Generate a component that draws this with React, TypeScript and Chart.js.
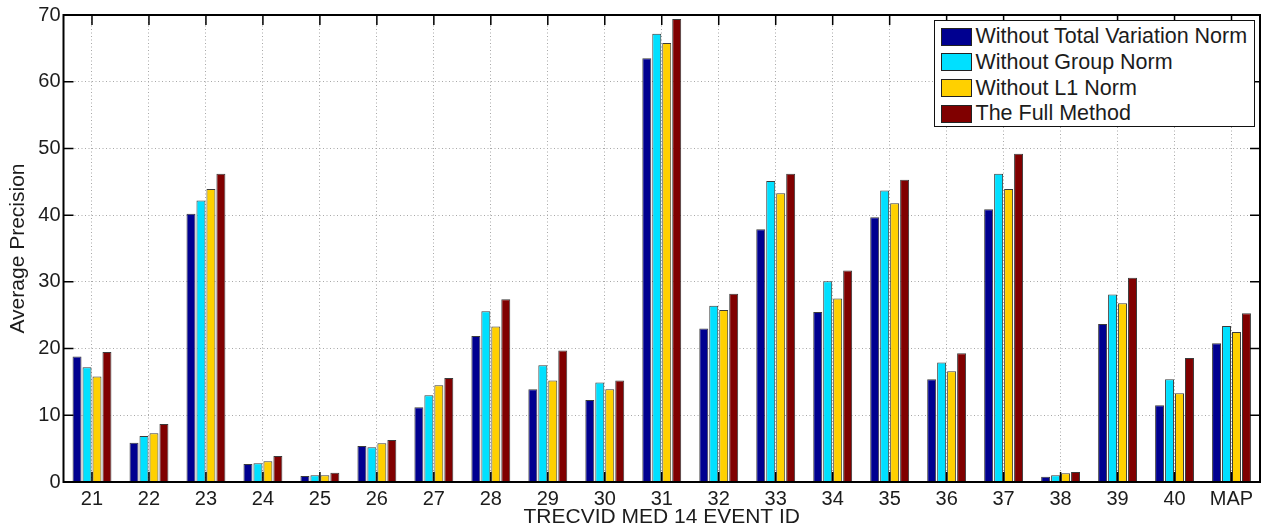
import React, { useEffect, useRef } from "react";
import { Chart, registerables } from "chart.js";

Chart.register(...registerables);

const categories = ["21", "22", "23", "24", "25", "26", "27", "28", "29", "30", "31", "32", "33", "34", "35", "36", "37", "38", "39", "40", "MAP"];
const seriesNames = ["Without Total Variation Norm", "Without Group Norm", "Without L1 Norm", "The Full Method"];
const withoutTV = [18.8, 5.9, 40.2, 2.7, 0.9, 5.4, 11.2, 21.9, 13.9, 12.3, 63.5, 23.0, 37.9, 25.5, 39.7, 15.4, 40.9, 0.8, 23.7, 11.5, 20.8];
const withoutGroup = [17.2, 6.9, 42.2, 2.8, 1.0, 5.2, 13.0, 25.6, 17.5, 14.9, 67.2, 26.4, 45.1, 30.1, 43.7, 17.9, 46.2, 1.0, 28.1, 15.4, 23.4];
const withoutL1 = [15.8, 7.3, 43.9, 3.1, 1.0, 5.8, 14.5, 23.3, 15.2, 13.9, 65.8, 25.8, 43.3, 27.5, 41.8, 16.6, 43.9, 1.3, 26.8, 13.3, 22.5];
const fullMethod = [19.5, 8.7, 46.2, 3.9, 1.4, 6.3, 15.6, 27.4, 19.7, 15.2, 69.4, 28.2, 46.2, 31.7, 45.3, 19.3, 49.2, 1.5, 30.6, 18.6, 25.3];
const seriesValues = [withoutTV, withoutGroup, withoutL1, fullMethod];
const colors = ["#000090", "#00E0FF", "#FFD000", "#800000"];
const yMin = 0;
const yMax = 70;
const yStep = 10;
const xTitle = "TRECVID MED 14 EVENT ID";
const yTitle = "Average Precision";

const FONT = "'Liberation Sans', Arial, Helvetica, sans-serif";
const TEXT = "#1c1c1c";

const frame = {
  id: "matlabFrame",
  afterDatasetsDraw(chart: any) {
    const { ctx, chartArea } = chart;
    const { left, right, top, bottom } = chartArea;
    const xs = chart.scales.x;
    const ys = chart.scales.y;
    const len = 10;
    ctx.save();
    ctx.strokeStyle = "#000";
    ctx.lineWidth = 1.5;
    ctx.beginPath();
    xs.ticks.forEach((_t: any, i: number) => {
      const x = xs.getPixelForTick(i);
      ctx.moveTo(x, bottom);
      ctx.lineTo(x, bottom - len);
      ctx.moveTo(x, top);
      ctx.lineTo(x, top + len);
    });
    ys.ticks.forEach((_t: any, i: number) => {
      const y = ys.getPixelForTick(i);
      ctx.moveTo(left, y);
      ctx.lineTo(left + len, y);
      ctx.moveTo(right, y);
      ctx.lineTo(right - len, y);
    });
    ctx.stroke();
    ctx.lineWidth = 2;
    ctx.strokeRect(left, top, right - left, bottom - top);
    ctx.restore();
  },
};

export default function App() {
  const ref = useRef<HTMLCanvasElement>(null);

  useEffect(() => {
    if (!ref.current) return;
    const chart = new Chart(ref.current, {
      type: "bar",
      data: {
        labels: categories,
        datasets: seriesNames.map((name, i) => ({
          label: name,
          data: seriesValues[i],
          backgroundColor: colors[i],
          borderColor: "rgba(25,25,25,0.85)",
          borderWidth: 1,
          categoryPercentage: 0.7,
          barPercentage: 0.9,
        })),
      },
      options: {
        responsive: false,
        animation: false,
        layout: { padding: { left: 0, top: 15, right: 3, bottom: 0 } },
        plugins: {
          legend: { display: false },
          tooltip: { enabled: false },
        },
        scales: {
          x: {
            offset: true,
            grid: {
              offset: false,
              color: "#a8a8a8",
              lineWidth: 1,
              drawTicks: false,
            },
            border: { display: false, dash: [1, 2.5] },
            ticks: {
              padding: 5,
              color: TEXT,
              font: { family: FONT, size: 20 },
              maxRotation: 0,
              autoSkip: false,
            },
            title: {
              display: true,
              text: xTitle,
              color: TEXT,
              font: { family: FONT, size: 21, lineHeight: 1 },
              padding: { top: 0, bottom: -1 },
            },
            afterFit: (s: any) => {
              s.height = 45;
            },
          },
          y: {
            min: yMin,
            max: yMax,
            grid: {
              color: "#a8a8a8",
              lineWidth: 1,
              drawTicks: false,
            },
            border: { display: false, dash: [1, 2.5] },
            ticks: {
              stepSize: yStep,
              padding: 3,
              color: TEXT,
              font: { family: FONT, size: 20 },
            },
            title: {
              display: true,
              text: yTitle,
              color: TEXT,
              font: { family: FONT, size: 21, lineHeight: 1 },
              padding: { top: 7.5, bottom: 0 },
            },
            afterFit: (s: any) => {
              s.width = 63.5;
            },
          },
        },
      },
      plugins: [frame],
    });
    return () => chart.destroy();
  }, []);

  return (
    <div style={{ position: "absolute", left: 0, top: 0, width: 1263, height: 527, background: "#fff" }}>
      <canvas ref={ref} width={1263} height={527} style={{ display: "block" }} />
      <div
        style={{
          position: "absolute",
          left: 934,
          top: 20,
          width: 321,
          height: 107,
          boxSizing: "border-box",
          border: "1.5px solid #111",
          background: "#fff",
        }}
      >
        {seriesNames.map((name, i) => (
          <div
            key={name}
            style={{
              position: "absolute",
              left: 5.5,
              top: 6 + i * 25.8,
              height: 19,
              display: "flex",
              alignItems: "center",
              whiteSpace: "nowrap",
            }}
          >
            <div
              style={{
                width: 31,
                height: 18,
                boxSizing: "border-box",
                background: colors[i],
                border: "1px solid #222",
                flex: "none",
              }}
            />
            <span
              style={{
                marginLeft: 4,
                fontFamily: FONT,
                fontSize: 21.5,
                lineHeight: "19px",
                color: TEXT,
              }}
            >
              {name}
            </span>
          </div>
        ))}
      </div>
    </div>
  );
}
